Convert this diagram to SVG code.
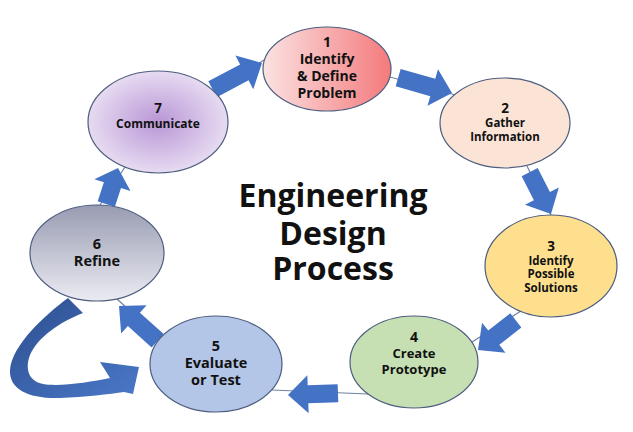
<svg xmlns="http://www.w3.org/2000/svg" width="633" height="432" viewBox="0 0 633 432">
<defs>
<linearGradient id="g1" x1="0" y1="0" x2="1" y2="0"><stop offset="0" stop-color="#fbe2e2"/><stop offset="1" stop-color="#f47a7c"/></linearGradient>
<linearGradient id="g6" x1="0" y1="0" x2="0" y2="1"><stop offset="0" stop-color="#989cb2"/><stop offset="1" stop-color="#ebebf2"/></linearGradient>
<radialGradient id="g7" cx="0.5" cy="0.5" r="0.55"><stop offset="0" stop-color="#b996d6"/><stop offset="1" stop-color="#ebe2f4"/></radialGradient>
<linearGradient id="gc" x1="0" y1="0" x2="1" y2="1"><stop offset="0" stop-color="#2d4e8e"/><stop offset="1" stop-color="#4a78c8"/></linearGradient>
<style>
.n{stroke:#4d5d7e;stroke-width:1.2}
.t{font-family:"Open Sans","DejaVu Sans",sans-serif;font-weight:bold;fill:#111;text-anchor:middle}
.c{stroke:#6f82a3;stroke-width:1.2;fill:none}
.a{fill:#4472c4}
</style>
</defs>
<rect width="633" height="432" fill="#fff"/>
<g id="connectors">
<line class="c" x1="215" y1="92" x2="264" y2="60"/>
<line class="c" x1="390" y1="77" x2="455" y2="95"/>
<line class="c" x1="527" y1="166" x2="551" y2="215"/>
<line class="c" x1="521" y1="311" x2="472" y2="342"/>
<line class="c" x1="368" y1="394" x2="272" y2="390"/>
<line class="c" x1="160" y1="338" x2="117" y2="299"/>
<line class="c" x1="100" y1="205" x2="125" y2="167"/>
<path class="a" d="M-56,-9 L-20,-9 L-20,-19 L0,0 L-20,19 L-20,9 L-56,9 Z" transform="translate(262,63) rotate(-28)"/>
<path class="a" d="M-56,-9 L-20,-9 L-20,-19 L0,0 L-20,19 L-20,9 L-56,9 Z" transform="translate(452,93) rotate(16)"/>
<path class="a" d="M-47,-9 L-20,-9 L-20,-19 L0,0 L-20,19 L-20,9 L-47,9 Z" transform="translate(551,214) rotate(63)"/>
<path class="a" d="M-48,-9 L-20,-9 L-20,-19 L0,0 L-20,19 L-20,9 L-48,9 Z" transform="translate(478,350) rotate(142)"/>
<path class="a" d="M-50,-9 L-20,-9 L-20,-19 L0,0 L-20,19 L-20,9 L-50,9 Z" transform="translate(288,395) rotate(178)"/>
<path class="a" d="M-52,-9 L-20,-9 L-20,-19 L0,0 L-20,19 L-20,9 L-52,9 Z" transform="translate(119,306) rotate(-138)"/>
<path class="a" d="M-38,-9 L-18,-9 L-18,-19 L0,0 L-18,19 L-18,9 L-38,9 Z" transform="translate(118,168) rotate(-72)"/>
<path fill="url(#gc)" d="M68,298 C45,315 12,345 10,370 C9,390 30,399 60,398 C85,397 110,394 124,392 L133,394 L139,367 L100,362 L110,378 C90,382 60,387 43,384 C28,381 25,368 30,355 C38,337 60,322 83,313 Z"/>
</g>
<g id="node1"><ellipse class="n" cx="327" cy="69" rx="64" ry="42" fill="url(#g1)"/>
<text class="t" font-size="14"><tspan x="327" y="47">1</tspan><tspan x="327" y="64">Identify</tspan><tspan x="327" y="81">&amp; Define</tspan><tspan x="327" y="98">Problem</tspan></text></g>
<g id="node2"><ellipse class="n" cx="505" cy="123" rx="65" ry="45" fill="#fbe4d6"/>
<text class="t" font-size="11.5"><tspan x="505" y="113" font-size="13.5">2</tspan><tspan x="505" y="127">Gather</tspan><tspan x="505" y="141">Information</tspan></text></g>
<g id="node3"><ellipse class="n" cx="551" cy="266" rx="66" ry="51" fill="#fedf8e"/>
<text class="t" font-size="11.5"><tspan x="551" y="251" font-size="13.5">3</tspan><tspan x="551" y="264.5">Identify</tspan><tspan x="551" y="278">Possible</tspan><tspan x="551" y="291.5">Solutions</tspan></text></g>
<g id="node4"><ellipse class="n" cx="414" cy="362" rx="64" ry="46" fill="#c6e0b4"/>
<text class="t" font-size="13"><tspan x="414" y="342" font-size="14">4</tspan><tspan x="414" y="358">Create</tspan><tspan x="414" y="374">Prototype</tspan></text></g>
<g id="node5"><ellipse class="n" cx="216" cy="364" rx="66" ry="48" fill="#b4c6e7"/>
<text class="t" font-size="14.5"><tspan x="216" y="351">5</tspan><tspan x="216" y="368">Evaluate</tspan><tspan x="216" y="385">or Test</tspan></text></g>
<g id="node6"><ellipse class="n" cx="97" cy="253" rx="67" ry="48" fill="url(#g6)"/>
<text class="t" font-size="14.5"><tspan x="97" y="249">6</tspan><tspan x="97" y="266">Refine</tspan></text></g>
<g id="node7"><ellipse class="n" cx="158" cy="122" rx="70" ry="51" fill="url(#g7)"/>
<text class="t" font-size="12"><tspan x="158" y="113" font-size="13.5">7</tspan><tspan x="158" y="128">Communicate</tspan></text></g>
<g id="title"><text class="t" font-size="32"><tspan x="333" y="207">Engineering</tspan><tspan x="333" y="245">Design</tspan><tspan x="333" y="280">Process</tspan></text></g>
</svg>
